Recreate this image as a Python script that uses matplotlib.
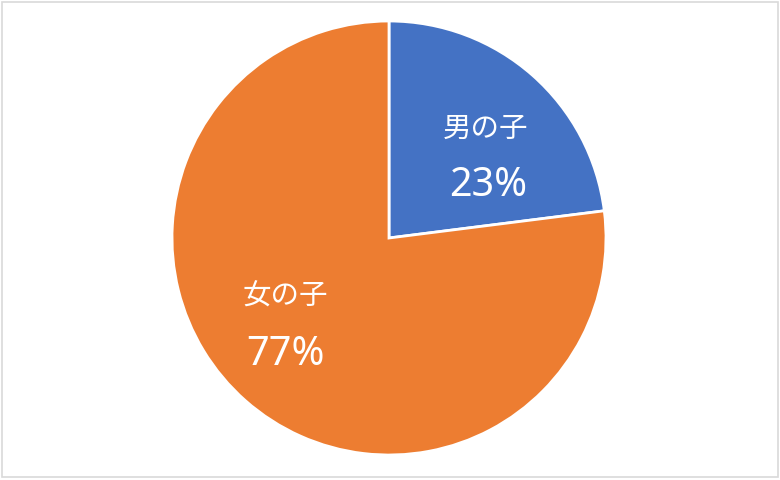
import matplotlib.pyplot as plt
from matplotlib.patches import Rectangle

plt.rcParams['font.family'] = ['Noto Sans CJK JP', 'DejaVu Sans']

labels = ['男の子', '女の子']
shares = [23, 77]
colors = ['#4472C4', '#ED7D31']
# label anchor points (pixels from top-left of the picture)
label_pos = [(486, 129), (285, 297)]
pct_pos = [(488, 186), (286, 355)]

fig = plt.figure(figsize=(7.8, 4.8), dpi=100)
ax = fig.add_axes([0, 0, 1, 1])

# pie on a y-down axis: draw counterclock so it turns clockwise on screen
ax.pie(shares, colors=colors, startangle=-90, counterclock=True,
       center=(389, 238), radius=217, frame=True,
       wedgeprops=dict(edgecolor='white', linewidth=2))
ax.set_xlim(0, 780)
ax.set_ylim(480, 0)
ax.axis('off')

for lab, s, (lx, ly), (px, py) in zip(labels, shares, label_pos, pct_pos):
    ax.text(lx, ly, lab, color='white', fontsize=20.5, ha='center', va='center')
    ax.text(px, py, f'{s}%', color='white', fontsize=28.5, ha='center', va='center',
            family=['Noto Sans', 'DejaVu Sans'])

fig.patches.append(Rectangle((0.003, 0.006), 0.994, 0.99, transform=fig.transFigure,
                             fill=False, edgecolor='#D9D9D9', linewidth=1.2))

fig.savefig('out.png', dpi=100)
